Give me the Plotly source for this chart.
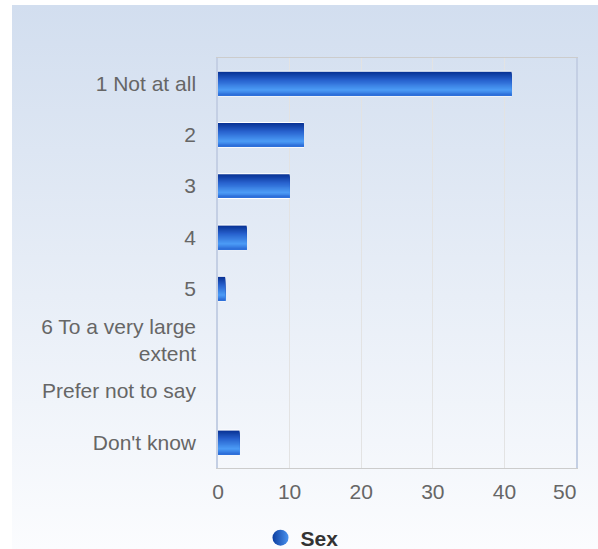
import base64
import plotly.graph_objects as go

# ---- data ----
categories = ["1 Not at all", "2", "3", "4", "5", "6 To a very large<br>extent",
              "Prefer not to say", "Don't know"]
values = [41, 12, 10, 4, 1, 0, 0, 3]
series_name = "Sex"
x_tick_values = [0, 10, 20, 30, 40]
x_max = 50

# ---- styling ----
W, H = 598, 549
ML, MR, MT, MB = 218, 22, 58, 81
PW, PH = W - ML - MR, H - MT - MB

BAR_W = 0.46      # bar thickness in category units
BORDER_W = 0.50   # white border thickness
N_STRIPES = 24

stops = [(0.0, (10, 52, 150)), (0.35, (40, 98, 206)), (0.78, (76, 156, 246)), (1.0, (46, 112, 218))]


def grad(t):
    for (t0, c0), (t1, c1) in zip(stops[:-1], stops[1:]):
        if t0 <= t <= t1:
            f = (t - t0) / (t1 - t0) if t1 > t0 else 0
            return "rgb(%d,%d,%d)" % tuple(round(a + (b - a) * f) for a, b in zip(c0, c1))
    return "rgb(%d,%d,%d)" % stops[-1][1]


fig = go.Figure()

# white border bar
fig.add_trace(go.Bar(y=categories, x=values, orientation="h", width=BORDER_W,
                     offset=-BORDER_W / 2, marker=dict(color="white", line=dict(width=0)),
                     showlegend=False, hoverinfo="skip"))

# gradient stripes (each from its start to bar bottom, overlaid in order)
for i in range(N_STRIPES):
    t = i / (N_STRIPES - 1)
    start = -BAR_W / 2 + i * BAR_W / N_STRIPES
    fig.add_trace(go.Bar(y=categories, x=values, orientation="h",
                         width=BAR_W / 2 - start, offset=start,
                         marker=dict(color=grad(t), line=dict(width=0)),
                         showlegend=False, hoverinfo="skip"))

# legend entry
fig.add_trace(go.Scatter(x=[None], y=[None], mode="markers", name="<b>" + series_name + "</b>",
                         marker=dict(symbol="circle", size=20, color="#0c3ea0",
                                     gradient=dict(type="horizontal", color="#4a92ee"),
                                     line=dict(width=0))))

# background gradient image
svg = ('<svg xmlns="http://www.w3.org/2000/svg" width="100" height="100" preserveAspectRatio="none">'
       '<defs><linearGradient id="g" x1="0" y1="0" x2="0" y2="1">'
       '<stop offset="0" stop-color="#d2deef"/><stop offset="1" stop-color="#fbfcfe"/>'
       '</linearGradient></defs><rect width="100" height="100" fill="url(#g)"/></svg>')
src = "data:image/svg+xml;base64," + base64.b64encode(svg.encode()).decode()

bx0, by0, bx1, by1 = 12, 5, 598, 549
fig.add_layout_image(dict(source=src, xref="paper", yref="paper",
                          x=(bx0 - ML) / PW, y=(H - MB - by0) / PH,
                          sizex=(bx1 - bx0) / PW, sizey=(by1 - by0) / PH,
                          xanchor="left", yanchor="top", sizing="stretch", layer="below"))

font_family = "Liberation Sans, Arial, sans-serif"

fig.add_annotation(x=x_max, xref="x", y=(H - MB - 491) / PH, yref="paper",
                   text=str(x_max), showarrow=False, xanchor="right", yanchor="middle",
                   font=dict(size=21, color="#666666", family=font_family), xshift=2)

fig.update_layout(
    width=W, height=H,
    margin=dict(l=ML, r=MR, t=MT, b=MB, pad=0, autoexpand=False),
    paper_bgcolor="white", plot_bgcolor="rgba(0,0,0,0)",
    barmode="overlay",
    font=dict(family=font_family, color="#666666", size=21),
    xaxis=dict(range=[0, x_max], tickvals=x_tick_values, showgrid=True, gridcolor="#e3e3e3",
               gridwidth=1, zeroline=False, showline=True, linecolor="#cccccc", linewidth=1,
               mirror=True, ticks="", ticklabelstandoff=5, automargin=False,
               tickfont=dict(size=21, color="#666666")),
    yaxis=dict(autorange="reversed", showgrid=False, zeroline=False, showline=True,
               linecolor="#c4cfe4", linewidth=1.5, mirror=True, ticks="", automargin=False,
               ticklabelstandoff=16, tickfont=dict(size=21, color="#666666")),
    legend=dict(orientation="h", x=(302 - ML) / PW, xanchor="center",
                y=(H - MB - 538) / PH, yanchor="middle",
                font=dict(size=21, color="#333333"), bgcolor="rgba(0,0,0,0)"),
    showlegend=True,
)

fig.write_html("out.html", config={"displayModeBar": False},
               post_script="document.body.style.margin='0';document.body.style.overflow='hidden';")
